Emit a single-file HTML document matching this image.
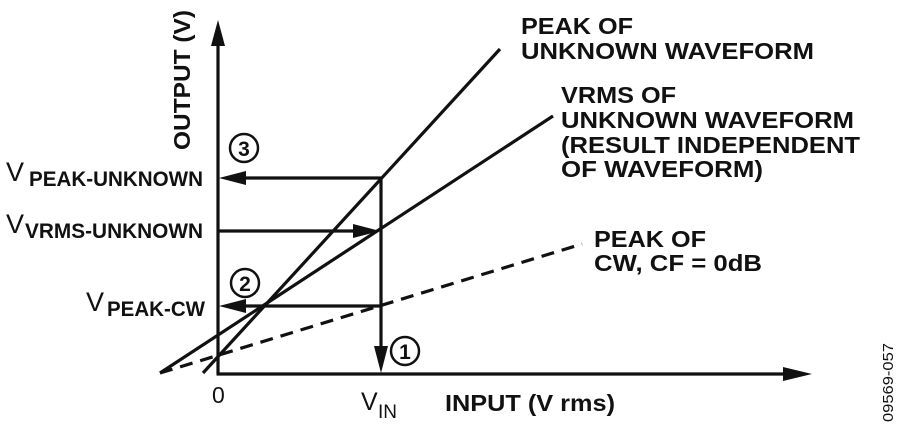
<!DOCTYPE html>
<html><head><meta charset="utf-8"><style>
html,body{margin:0;padding:0;background:#fff;}
svg{display:block;}
text{font-family:"Liberation Sans",Arial,sans-serif;font-weight:bold;fill:#111;}
</style></head><body>
<svg width="900" height="429" viewBox="0 0 900 429" xmlns="http://www.w3.org/2000/svg">
<g stroke="#111" stroke-width="3.2" fill="none">
  <line x1="218" y1="40" x2="218" y2="374"/>
  <line x1="216.5" y1="374" x2="790" y2="374"/>
  <line x1="203" y1="373" x2="500" y2="49"/>
  <line x1="160" y1="373" x2="553" y2="116"/>
  <line x1="160" y1="373" x2="582" y2="244" stroke-dasharray="13,8"/>
  <line x1="240" y1="178" x2="381" y2="178"/>
  <line x1="218" y1="231" x2="358" y2="231"/>
  <line x1="240" y1="306" x2="381" y2="306"/>
  <line x1="381" y1="176.5" x2="381" y2="350"/>
  <circle cx="244" cy="148" r="14" stroke-width="2.5"/>
  <circle cx="245" cy="283" r="14" stroke-width="2.5"/>
  <circle cx="405" cy="351" r="14" stroke-width="2.5"/>
</g>
<g fill="#111">
  <polygon points="218,20 211,46 225,46"/>
  <polygon points="812,374 783,367 783,381"/>
  <polygon points="219,178 246,171 246,185"/>
  <polygon points="380,231 353,224 353,238"/>
  <polygon points="219,306 246,299 246,313"/>
  <polygon points="381,373 374,346 388,346"/>
</g>
<g font-size="21">
  <text x="244" y="156" text-anchor="middle">3</text>
  <text x="245" y="291" text-anchor="middle">2</text>
  <text x="405" y="359" text-anchor="middle">1</text>
</g>
<text x="190" y="150" font-size="23" transform="rotate(-90 190 150)" textLength="140" lengthAdjust="spacingAndGlyphs">OUTPUT (V)</text>
<text x="6" y="181" font-size="27" style="font-weight:normal">V</text><text x="29" y="186" font-size="21" textLength="174" lengthAdjust="spacingAndGlyphs">PEAK-UNKNOWN</text>
<text x="6" y="233" font-size="27" style="font-weight:normal">V</text><text x="25" y="238" font-size="21" textLength="178" lengthAdjust="spacingAndGlyphs">VRMS-UNKNOWN</text>
<text x="86" y="311" font-size="27" style="font-weight:normal">V</text><text x="107" y="316" font-size="21" textLength="98" lengthAdjust="spacingAndGlyphs">PEAK-CW</text>
<text x="212" y="403" font-size="23" style="font-weight:normal">0</text>
<text x="361" y="410" font-size="25" style="font-weight:normal">V</text><text x="378" y="418" font-size="19" style="font-weight:normal">IN</text>
<text x="445" y="411" font-size="23" textLength="170" lengthAdjust="spacingAndGlyphs">INPUT (V rms)</text>
<g font-size="23">
  <text x="521" y="34" textLength="112" lengthAdjust="spacingAndGlyphs">PEAK OF</text>
  <text x="521" y="59" textLength="293" lengthAdjust="spacingAndGlyphs">UNKNOWN WAVEFORM</text>
  <text x="561" y="103" textLength="115" lengthAdjust="spacingAndGlyphs">VRMS OF</text>
  <text x="561" y="128" textLength="293" lengthAdjust="spacingAndGlyphs">UNKNOWN WAVEFORM</text>
  <text x="561" y="153" textLength="299" lengthAdjust="spacingAndGlyphs">(RESULT INDEPENDENT</text>
  <text x="561" y="177" textLength="202" lengthAdjust="spacingAndGlyphs">OF WAVEFORM)</text>
  <text x="594" y="247" textLength="112" lengthAdjust="spacingAndGlyphs">PEAK OF</text>
  <text x="594" y="271" textLength="168" lengthAdjust="spacingAndGlyphs">CW, CF = 0dB</text>
</g>
<text x="893" y="422" font-size="15" style="font-weight:normal" transform="rotate(-90 893 422)" textLength="79" lengthAdjust="spacingAndGlyphs">09569-057</text>
</svg>
</body></html>
